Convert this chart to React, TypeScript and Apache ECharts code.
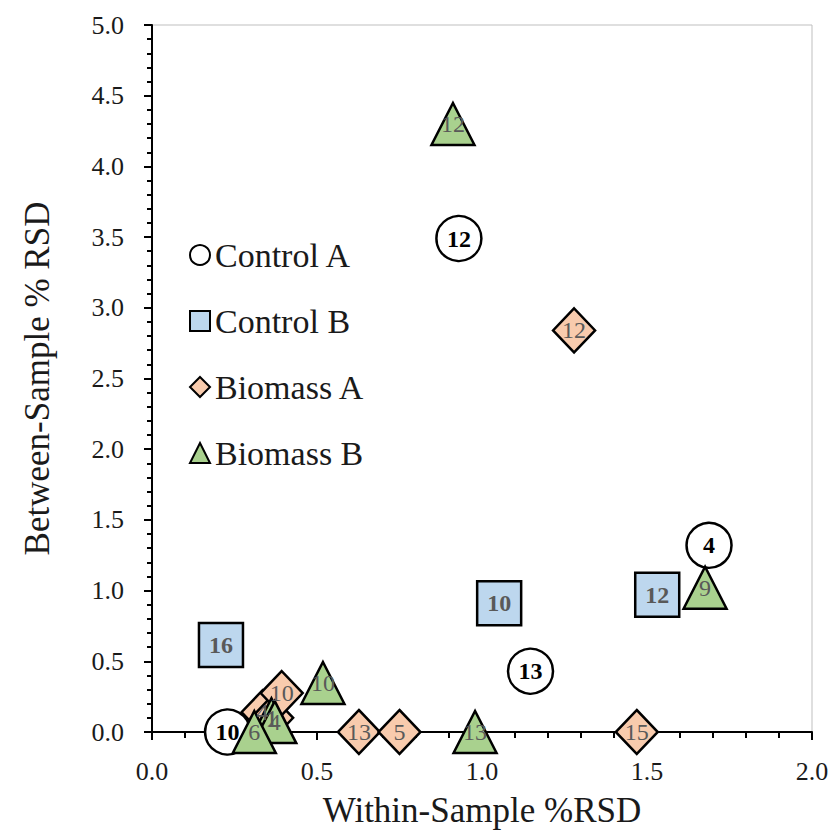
import React, { useEffect, useRef } from "react";
import * as echarts from "echarts";

const FONT = "'Liberation Serif', 'Times New Roman', serif";

const xTicks = [0, 0.5, 1.0, 1.5, 2.0];
const yTicks = [0, 0.5, 1.0, 1.5, 2.0, 2.5, 3.0, 3.5, 4.0, 4.5, 5.0];

const seriesNames = ["Control A", "Control B", "Biomass A", "Biomass B"];

// [within-sample %RSD, between-sample %RSD, label]
const controlA = [
  [0.93, 3.49, "12"],
  [1.688, 1.32, "4"],
  [1.147, 0.43, "13"],
  [0.229, 0.0, "10"],
];
const controlB = [
  [0.209, 0.615, "16"],
  [1.052, 0.91, "10"],
  [1.531, 0.97, "12"],
];
const biomassA = [
  [1.279, 2.84, "12"],
  [0.335, 0.14, "4"],
  [0.364, 0.1, "1"],
  [0.393, 0.275, "10"],
  [0.627, 0.0, "13"],
  [0.75, 0.0, "5"],
  [1.469, 0.0, "15"],
];
const biomassB = [
  [0.912, 4.3, "12"],
  [0.518, 0.347, "10"],
  [0.979, 0.0, "13"],
  [1.676, 1.02, "9"],
  [0.362, 0.09, "1"],
  [0.372, 0.07, "4"],
  [0.31, 0.0, "6"],
];

export default function App() {
  const ref = useRef<HTMLDivElement>(null);
  useEffect(() => {
    if (!ref.current) return;
    const chart = echarts.init(ref.current, null, { renderer: "svg" });
    const labelFmt = (p: any) => String(p.value[2]);
    const mk = (
      name: string,
      data: any[],
      symbol: string,
      size: any,
      color: string,
      labelColor: string,
      bold: boolean
    ) => ({
      name,
      type: "scatter",
      data,
      symbol,
      symbolSize: size,
      itemStyle: { color, borderColor: "#000", borderWidth: 2.5, opacity: 1 },
      label: {
        show: true,
        position: "inside",
        formatter: labelFmt,
        color: labelColor,
        fontFamily: FONT,
        fontSize: 24,
        fontWeight: bold ? "bold" : "normal",
      },
      emphasis: { disabled: true },
    });
    chart.setOption({
      animation: false,
      backgroundColor: "#fff",
      grid: {
        left: 152,
        right: 23,
        top: 25,
        bottom: 101,
        show: true,
        borderColor: "#bfbfbf",
        borderWidth: 1,
        backgroundColor: "transparent",
      },
      legend: {
        orient: "vertical",
        left: 184,
        top: 233,
        itemGap: 32,
        itemWidth: 20,
        itemHeight: 20,
        data: seriesNames,
        textStyle: { fontFamily: FONT, fontSize: 34, color: "#1a1a1a" },
        selectedMode: false,
      },
      xAxis: {
        type: "value",
        min: xTicks[0],
        max: xTicks[xTicks.length - 1],
        interval: 0.5,
        name: "Within-Sample %RSD",
        nameLocation: "middle",
        nameGap: 61,
        nameTextStyle: { fontFamily: FONT, fontSize: 35, color: "#1a1a1a" },
        axisLine: { show: true, onZero: false, lineStyle: { color: "#000", width: 2 } },
        axisTick: { show: true, inside: false, length: 8, lineStyle: { color: "#000", width: 2 } },
        minorTick: { show: true, splitNumber: 5, length: 6, lineStyle: { color: "#000", width: 2 } },
        splitLine: { show: false },
        axisLabel: {
          margin: 26,
          fontFamily: FONT,
          fontSize: 26,
          color: "#1a1a1a",
          formatter: (v: number) => v.toFixed(1),
        },
      },
      yAxis: {
        type: "value",
        min: yTicks[0],
        max: yTicks[yTicks.length - 1],
        interval: 0.5,
        name: "Between-Sample % RSD",
        nameLocation: "middle",
        nameGap: 97,
        nameTextStyle: { fontFamily: FONT, fontSize: 35, color: "#1a1a1a" },
        axisLine: { show: true, onZero: false, lineStyle: { color: "#000", width: 2 } },
        axisTick: { show: true, inside: false, length: 8, lineStyle: { color: "#000", width: 2 } },
        minorTick: { show: true, splitNumber: 5, length: 5, lineStyle: { color: "#000", width: 2 } },
        splitLine: { show: false },
        axisLabel: {
          margin: 28,
          fontFamily: FONT,
          fontSize: 26,
          color: "#1a1a1a",
          formatter: (v: number) => v.toFixed(1),
        },
      },
      series: [
        mk(seriesNames[0], controlA, "circle", 45, "#ffffff", "#000000", true),
        mk(seriesNames[1], controlB, "rect", 44, "#BDD7EE", "#595959", true),
        mk(seriesNames[2], biomassA, "diamond", [42, 44], "#F8CBAD", "#595959", false),
        mk(seriesNames[3], biomassB, "triangle", [43, 42], "#A9D18E", "#595959", false),
      ],
    });
    return () => chart.dispose();
  }, []);
  return (
    <div
      ref={ref}
      style={{ position: "fixed", left: 0, top: 0, width: 835, height: 833 }}
    />
  );
}
